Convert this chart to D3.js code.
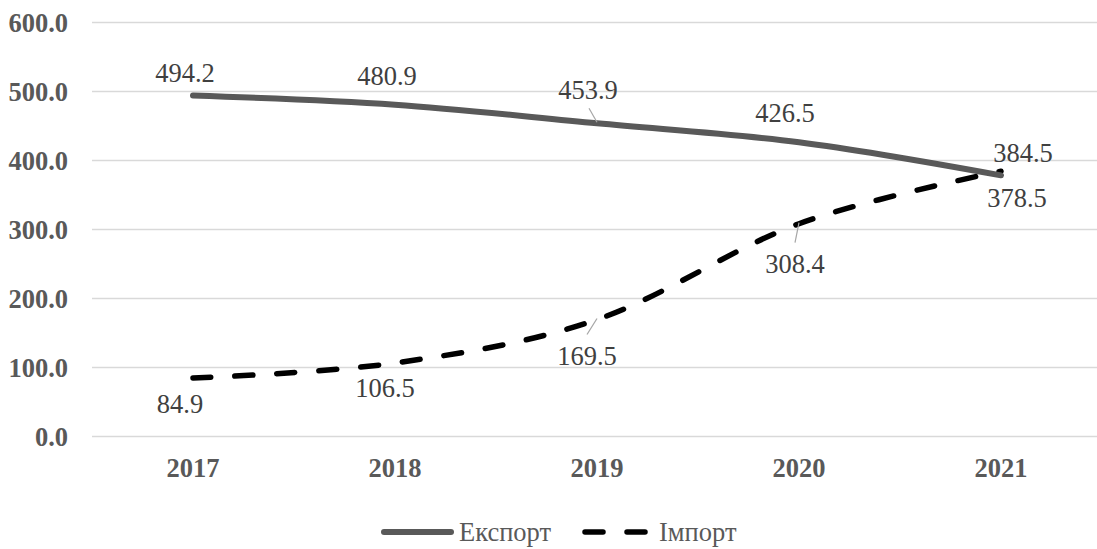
<!DOCTYPE html>
<html>
<head>
<meta charset="utf-8">
<script src="https://cdn.jsdelivr.net/npm/d3@7"></script>
<style>
  html, body { margin: 0; padding: 0; background: #fff; }
  svg { display: block; }
  svg text { font-family: "Liberation Serif", "Times New Roman", serif; }
</style>
</head>
<body>
<svg id="chart" width="1097" height="549"></svg>
<script>
// Data
const years = ["2017", "2018", "2019", "2020", "2021"];
const exportValues = [494.2, 480.9, 453.9, 426.5, 378.5];
const importValues = [84.9, 106.5, 169.5, 308.4, 384.5];
const yTicks = [0, 100, 200, 300, 400, 500, 600];
const seriesNames = ["Експорт", "Імпорт"];

// Label placement (offset of label centre/baseline from its point), leader flag
const exportLabelPos = [[-8, -14], [-8, -20], [-9, -24], [-14, -20], [16, 32]];
const importLabelPos = [[-13, 35], [-10, 34], [-10, 45], [-4, 49], [22, -9]];
const exportLeader = [false, false, true, false, false];
const importLeader = [false, false, true, true, false];

const FONT = '"Liberation Serif", "Times New Roman", serif';

const svg = d3.select("#chart");
const W = 1097, H = 549;
const plotLeft = 92, plotRight = 1102, plotTop = 22.5, plotBottom = 436.5;

const x = d3.scaleBand().domain(years).range([plotLeft, plotRight]);
const xc = d => x(d) + x.bandwidth() / 2;
const y = d3.scaleLinear().domain([0, 600]).range([plotBottom, plotTop]);

const fontSize = 26.5;

// Gridlines
svg.append("g")
  .selectAll("line")
  .data(yTicks)
  .join("line")
  .attr("x1", plotLeft).attr("x2", W)
  .attr("y1", d => y(d)).attr("y2", d => y(d))
  .attr("stroke", "#d9d9d9").attr("stroke-width", 1.5);

// Y axis labels
const yAxis = d3.axisLeft(y).tickValues(yTicks).tickFormat(d3.format(".1f")).tickSize(0).tickPadding(0);
const yG = svg.append("g").attr("transform", `translate(68,0)`).call(yAxis);
yG.attr("font-family", null).attr("font-size", null);
yG.select(".domain").remove();
yG.selectAll("text")
  .style("font-family", FONT)
  .attr("font-size", fontSize).attr("font-weight", "bold")
  .attr("fill", "#595959").attr("dy", "0.34em");

// X axis labels
const xAxis = d3.axisBottom(x).tickSize(0).tickPadding(0);
const xG = svg.append("g").attr("transform", `translate(0,${plotBottom})`).call(xAxis);
xG.attr("font-family", null).attr("font-size", null);
xG.select(".domain").remove();
xG.selectAll("text")
  .style("font-family", FONT)
  .attr("font-size", fontSize).attr("font-weight", "bold")
  .attr("fill", "#595959").attr("y", 40.5).attr("dy", 0);

// Lines
const line = d3.line()
  .x((d, i) => xc(years[i]))
  .y(d => y(d))
  .curve(d3.curveCatmullRom.alpha(0));

svg.append("path")
  .datum(importValues)
  .attr("d", line)
  .attr("fill", "none").attr("stroke", "#000")
  .attr("stroke-width", 5.5).attr("stroke-linecap", "round")
  .attr("stroke-dasharray", "18,24");

svg.append("path")
  .datum(exportValues)
  .attr("d", line)
  .attr("fill", "none").attr("stroke", "#595959")
  .attr("stroke-width", 6).attr("stroke-linecap", "round").attr("stroke-linejoin", "round");

// Data labels
function drawLabels(values, pos, leaders) {
  const g = svg.append("g");
  values.forEach((v, i) => {
    const px = xc(years[i]), py = y(v);
    const lx = px + pos[i][0], ly = py + pos[i][1];
    if (leaders[i]) {
      const above = pos[i][1] < 0;
      const ey = above ? ly + 9 : ly - 30;
      g.append("line")
        .attr("x1", px).attr("y1", py - 1)
        .attr("x2", lx + (above ? 1 : 0)).attr("y2", ey)
        .attr("stroke", "#a6a6a6").attr("stroke-width", 1.2);
    }
    g.append("text")
      .attr("x", lx).attr("y", ly)
      .attr("text-anchor", "middle")
      .style("font-family", FONT)
      .attr("font-size", fontSize)
      .attr("fill", "#404040")
      .text(d3.format(".1f")(v));
  });
}
drawLabels(exportValues, exportLabelPos, exportLeader);
drawLabels(importValues, importLabelPos, importLeader);

// Legend
const legend = svg.append("g");
const legY = 532;
legend.append("line")
  .attr("x1", 384).attr("x2", 451).attr("y1", legY).attr("y2", legY)
  .attr("stroke", "#595959").attr("stroke-width", 6).attr("stroke-linecap", "round");
legend.append("text")
  .attr("x", 459).attr("y", legY + 8.5)
  .style("font-family", FONT)
  .attr("font-size", fontSize).attr("fill", "#595959")
  .text(seriesNames[0]);
legend.append("line")
  .attr("x1", 585).attr("x2", 645).attr("y1", legY).attr("y2", legY)
  .attr("stroke", "#000").attr("stroke-width", 5.5).attr("stroke-linecap", "round")
  .attr("stroke-dasharray", "18,24");
legend.append("text")
  .attr("x", 659).attr("y", legY + 8.5)
  .style("font-family", FONT)
  .attr("font-size", fontSize).attr("fill", "#595959")
  .text(seriesNames[1]);
</script>
</body>
</html>
